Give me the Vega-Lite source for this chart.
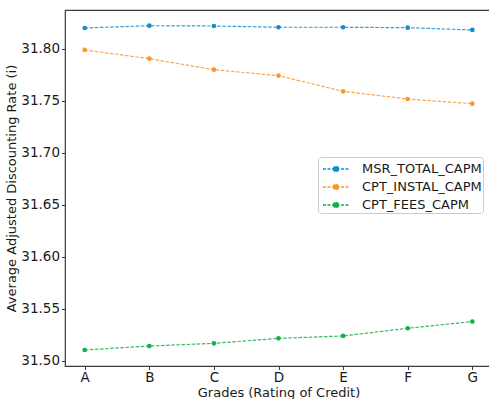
{
  "$schema": "https://vega.github.io/schema/vega-lite/v6.json",
  "autosize": {"type": "none"},
  "width": 427,
  "height": 356,
  "padding": {"left": 65, "top": 10, "right": 0, "bottom": 33},
  "background": "white",
  "config": {
    "font": "DejaVu Sans",
    "view": {"stroke": "#3a3a3a", "strokeWidth": 1.2},
    "axis": {"labelFont": "DejaVu Sans", "titleFont": "DejaVu Sans", "labelColor": "#1a1a1a", "titleColor": "#1a1a1a", "titleFontWeight": "normal", "tickColor": "#3a3a3a", "domain": false, "grid": false}
  },
  "data": {
    "values": [
      {"grade": "A", "series": "MSR_TOTAL_CAPM", "rate": 31.8199},
      {"grade": "B", "series": "MSR_TOTAL_CAPM", "rate": 31.8221},
      {"grade": "C", "series": "MSR_TOTAL_CAPM", "rate": 31.8218},
      {"grade": "D", "series": "MSR_TOTAL_CAPM", "rate": 31.8206},
      {"grade": "E", "series": "MSR_TOTAL_CAPM", "rate": 31.8206},
      {"grade": "F", "series": "MSR_TOTAL_CAPM", "rate": 31.8202},
      {"grade": "G", "series": "MSR_TOTAL_CAPM", "rate": 31.8180},
      {"grade": "A", "series": "CPT_INSTAL_CAPM", "rate": 31.7988},
      {"grade": "B", "series": "CPT_INSTAL_CAPM", "rate": 31.7904},
      {"grade": "C", "series": "CPT_INSTAL_CAPM", "rate": 31.7798},
      {"grade": "D", "series": "CPT_INSTAL_CAPM", "rate": 31.7740},
      {"grade": "E", "series": "CPT_INSTAL_CAPM", "rate": 31.7590},
      {"grade": "F", "series": "CPT_INSTAL_CAPM", "rate": 31.7516},
      {"grade": "G", "series": "CPT_INSTAL_CAPM", "rate": 31.7471},
      {"grade": "A", "series": "CPT_FEES_CAPM", "rate": 31.5102},
      {"grade": "B", "series": "CPT_FEES_CAPM", "rate": 31.5140},
      {"grade": "C", "series": "CPT_FEES_CAPM", "rate": 31.5166},
      {"grade": "D", "series": "CPT_FEES_CAPM", "rate": 31.5214},
      {"grade": "E", "series": "CPT_FEES_CAPM", "rate": 31.5237},
      {"grade": "F", "series": "CPT_FEES_CAPM", "rate": 31.5311},
      {"grade": "G", "series": "CPT_FEES_CAPM", "rate": 31.5375}
    ]
  },
  "encoding": {
    "x": {
      "field": "grade", "type": "ordinal",
      "scale": {"type": "point", "padding": 0.305},
      "axis": {"title": "Grades (Rating of Credit)", "labelAngle": 0, "labelFontSize": 13.5, "titleFontSize": 13, "tickSize": 3.5, "labelPadding": 1, "titlePadding": 2}
    },
    "y": {
      "field": "rate", "type": "quantitative",
      "scale": {"domain": [31.4948, 31.8372], "nice": false, "zero": false},
      "axis": {"title": "Average Adjusted Discounting Rate (i)", "values": [31.5, 31.55, 31.6, 31.65, 31.7, 31.75, 31.8], "format": ".2f", "labelFontSize": 13.5, "titleFontSize": 13, "tickSize": 3.5, "labelPadding": 2, "titlePadding": 2}
    },
    "color": {
      "field": "series", "type": "nominal",
      "scale": {"domain": ["MSR_TOTAL_CAPM", "CPT_INSTAL_CAPM", "CPT_FEES_CAPM"], "range": ["#0f8fd0", "#ff952a", "#12b247"]},
      "legend": {
        "title": null, "orient": "none", "legendX": 253, "legendY": 147,
        "labelFontSize": 13, "labelFont": "DejaVu Sans", "labelColor": "#1a1a1a",
        "symbolType": "M-1.3,0H1.3M-0.27,0A0.27,0.27,0,1,1,0.27,0A0.27,0.27,0,1,1,-0.27,0Z",
        "symbolSize": 400, "symbolStrokeWidth": 1.3, "symbolDash": [3, 1.5],
        "symbolOpacity": 1, "symbolOffset": 6,
        "fillColor": "white", "strokeColor": "#cccccc", "cornerRadius": 3,
        "padding": 1, "rowPadding": 0, "labelOffset": 15
      }
    }
  },
  "layer": [
    {"mark": {"type": "line", "strokeDash": [3.5, 1.6], "strokeWidth": 1.2, "opacity": 0.85}},
    {"mark": {"type": "point", "filled": true, "size": 22, "opacity": 1, "shape": "circle"}}
  ]
}
